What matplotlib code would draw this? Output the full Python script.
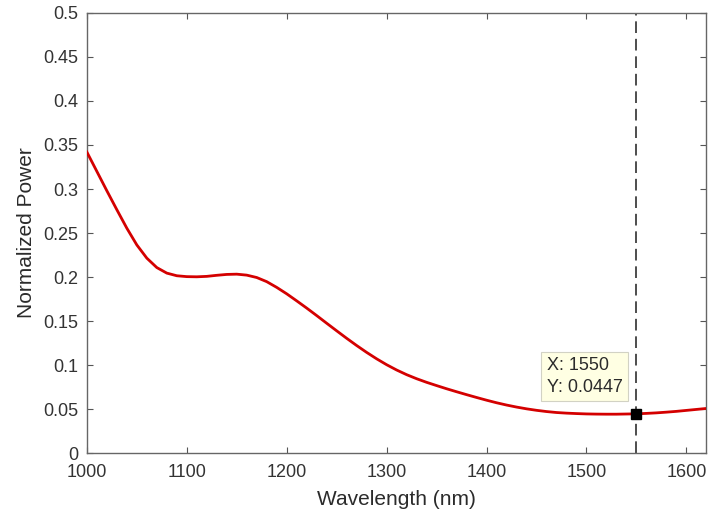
import numpy as np
import matplotlib.pyplot as plt
from matplotlib.ticker import FuncFormatter

# wavelength sweep (nm) and normalized output power
wavelength = [1000, 1010, 1020, 1030, 1040, 1050, 1060, 1070, 1080, 1090,
              1100, 1110, 1120, 1130, 1140, 1150, 1160, 1170, 1180, 1190,
              1200, 1210, 1220, 1230, 1240, 1250, 1260, 1270, 1280, 1290,
              1300, 1310, 1320, 1330, 1340, 1350, 1360, 1370, 1380, 1390,
              1400, 1410, 1420, 1430, 1440, 1450, 1460, 1470, 1480, 1490,
              1500, 1510, 1520, 1530, 1540, 1550, 1560, 1570, 1580, 1590,
              1600, 1610, 1620]
power = [0.342, 0.320, 0.298, 0.2765, 0.2555, 0.2365, 0.2215, 0.2108, 0.2045, 0.2015,
         0.2005, 0.2003, 0.2008, 0.2020, 0.2030, 0.2033, 0.2022, 0.1995, 0.1948, 0.1883,
         0.1810, 0.1730, 0.1648, 0.1563, 0.1476, 0.1390, 0.1305, 0.1223, 0.1145, 0.1072,
         0.1005, 0.0945, 0.0892, 0.0846, 0.0805, 0.0768, 0.0732, 0.0698, 0.0665, 0.0633,
         0.0602, 0.0573, 0.0547, 0.0524, 0.0504, 0.0487, 0.0473, 0.0462, 0.0455, 0.0450,
         0.0446, 0.0444, 0.0443, 0.0443, 0.0445, 0.0447, 0.0452, 0.0458, 0.0466, 0.0475,
         0.0486, 0.0497, 0.0508]

# data tip
tip_x = 1550
tip_y = 0.0447

xticks = [1000, 1100, 1200, 1300, 1400, 1500, 1600]
yticks = np.arange(0, 0.501, 0.05)

plt.rcParams['font.family'] = ['Liberation Sans', 'DejaVu Sans']

fig = plt.figure(figsize=(7.12, 5.15), dpi=100)
ax = fig.add_axes([0.122, 0.12, 0.870, 0.855])

ax.plot(wavelength, power, color='#d40000', linewidth=2.0, zorder=3)
ax.axvline(tip_x, color='#4d4d4d', linestyle=(0, (6, 3)), linewidth=1.4, zorder=2)
ax.plot([tip_x], [tip_y], marker='s', color='black', markersize=7.5, zorder=4)

ax.annotate(f'X: {tip_x}\nY: {tip_y}', xy=(tip_x, tip_y), xytext=(-10, 13),
            textcoords='offset points', fontsize=13, color='#2b2b2b',
            linespacing=1.35, va='bottom', ha='right', multialignment='left',
            bbox=dict(boxstyle='square,pad=0.3', facecolor='#ffffe3',
                      edgecolor='#d2d2c4', linewidth=0.8))

ax.set_xlim(1000, 1620)
ax.set_ylim(0, 0.5)
ax.set_xticks(xticks)
ax.set_yticks(yticks)
ax.yaxis.set_major_formatter(FuncFormatter(lambda v, p: f'{v:g}'))

ax.tick_params(direction='in', length=4.5, width=0.8, color='#555555',
               labelsize=13, labelcolor='#333333', top=True, right=True)
ax.tick_params(axis='x', pad=8)
ax.tick_params(axis='y', pad=6)
for s in ax.spines.values():
    s.set_color('#666666')
    s.set_linewidth(1.0)

ax.set_xlabel('Wavelength (nm)', fontsize=15, color='#2b2b2b', labelpad=6)
ax.set_ylabel('Normalized Power', fontsize=15, color='#2b2b2b', labelpad=5)

fig.savefig('out.png', dpi=100)
